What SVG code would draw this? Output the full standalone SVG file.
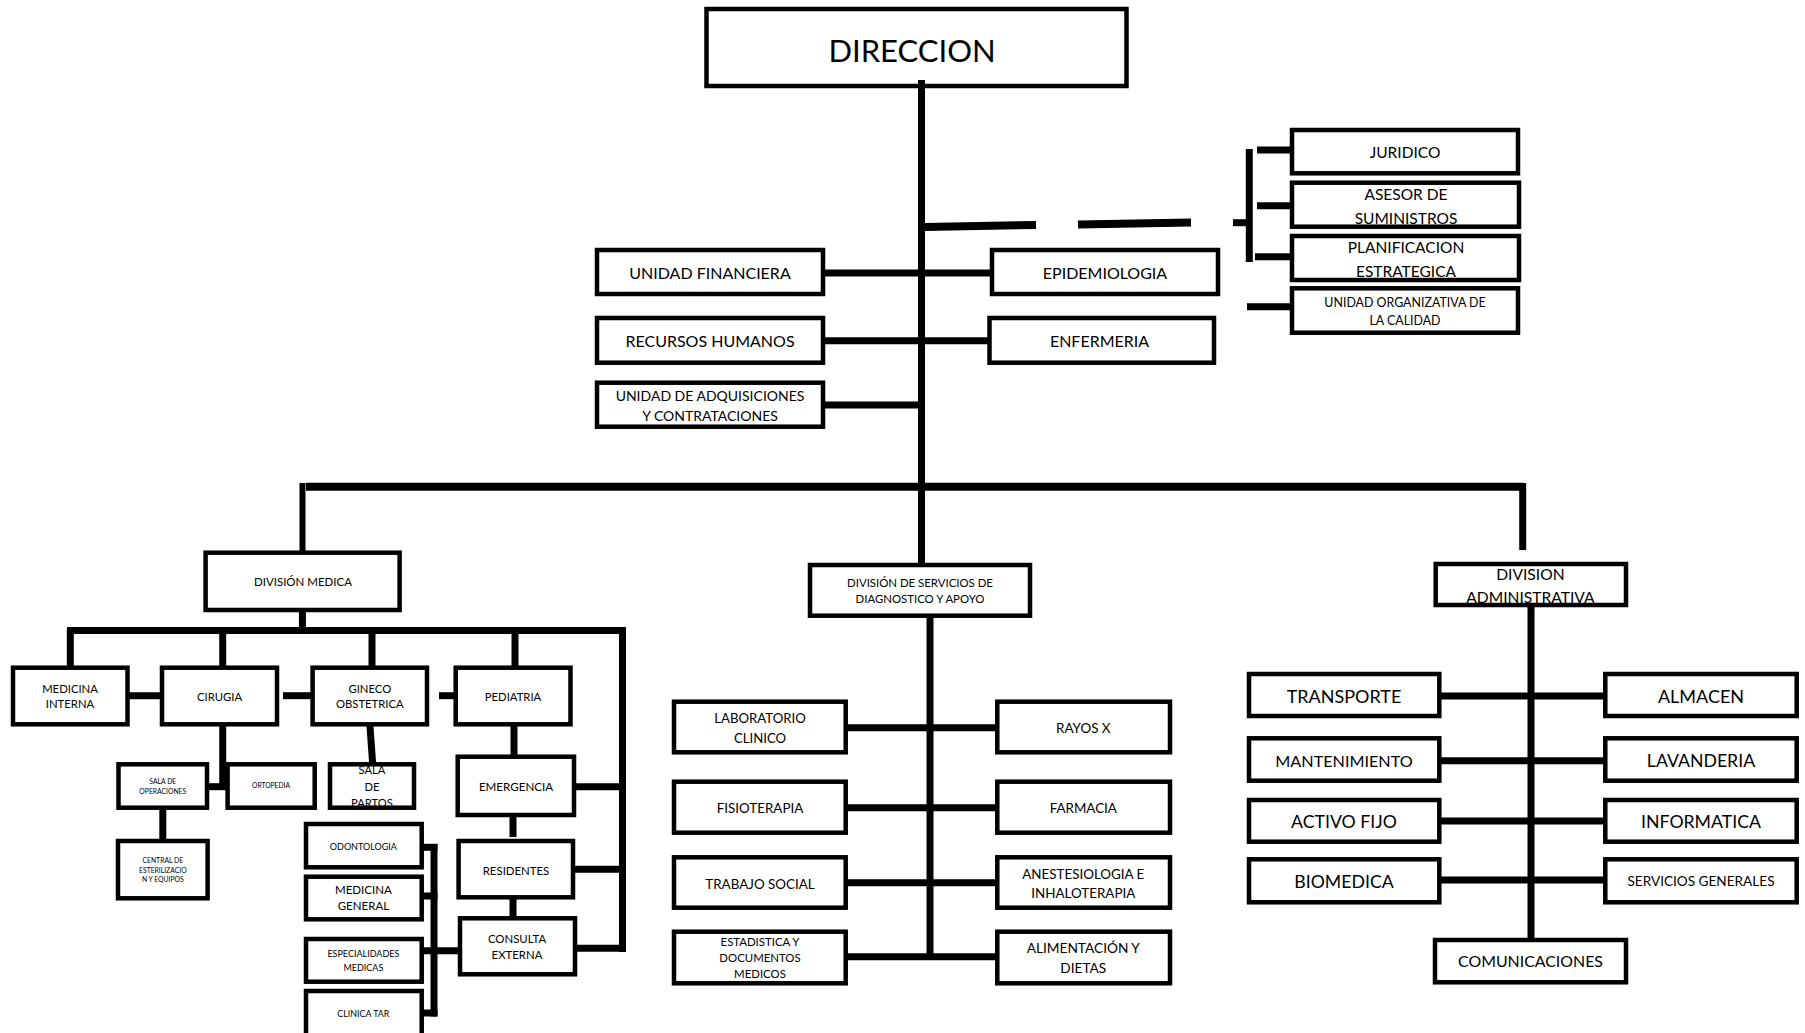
<svg xmlns="http://www.w3.org/2000/svg" width="1805" height="1033" viewBox="0 0 1805 1033">
<style>
  .bx{fill:none;stroke:#000;stroke-width:4.5}
  .c{stroke:#000;stroke-width:7;fill:none;stroke-linecap:butt}
  .t{font-family:Lato,"Noto Sans",sans-serif;fill:#000;text-anchor:middle}
</style>
<rect width="1805" height="1033" fill="#fff"/>
<g id="connectors">
  <line class="c" x1="921.5" y1="80" x2="921.5" y2="565"/>
  <line class="c" x1="925" y1="227" x2="1036" y2="225" style="stroke-width:8"/>
  <line class="c" x1="1078" y1="224.5" x2="1191" y2="222.5" style="stroke-width:8"/>
  <line class="c" x1="823" y1="273" x2="992" y2="273"/>
  <line class="c" x1="823" y1="340.7" x2="989.5" y2="340.7"/>
  <line class="c" x1="823" y1="405" x2="921.5" y2="405"/>
  <line class="c" x1="1249.3" y1="149" x2="1249.3" y2="262"/>
  <line class="c" x1="1257" y1="150" x2="1292" y2="150"/>
  <line class="c" x1="1257" y1="205.7" x2="1292" y2="205.7"/>
  <line class="c" x1="1255" y1="256.7" x2="1292" y2="256.7"/>
  <line class="c" x1="1233" y1="222.7" x2="1249" y2="222.7"/>
  <line class="c" x1="1247" y1="306.7" x2="1292" y2="306.7"/>
  <line class="c" x1="306" y1="486.7" x2="1523" y2="486.7" style="stroke-width:8"/>
  <line class="c" x1="302.5" y1="483" x2="302.5" y2="553" style="stroke-width:6"/>
  <line class="c" x1="1522.7" y1="483" x2="1522.7" y2="550"/>
  <line class="c" x1="302.4" y1="610" x2="302.4" y2="631"/>
  <line class="c" x1="67" y1="630.5" x2="626" y2="630.5"/>
  <line class="c" x1="70.3" y1="630" x2="70.3" y2="668"/>
  <line class="c" x1="222.7" y1="630" x2="222.7" y2="668"/>
  <line class="c" x1="372" y1="630" x2="372" y2="668"/>
  <line class="c" x1="515" y1="630" x2="515" y2="668"/>
  <line class="c" x1="622.5" y1="627" x2="622.5" y2="952"/>
  <line class="c" x1="127.5" y1="695.7" x2="162" y2="695.7"/>
  <line class="c" x1="283" y1="695.7" x2="312.6" y2="695.7"/>
  <line class="c" x1="439" y1="695.7" x2="455.7" y2="695.7"/>
  <line class="c" x1="222.7" y1="724" x2="222.7" y2="790"/>
  <line class="c" x1="207" y1="786.7" x2="227.6" y2="786.7"/>
  <line class="c" x1="369.8" y1="724" x2="372.7" y2="764"/>
  <line class="c" x1="162.8" y1="807.7" x2="162.8" y2="841"/>
  <line class="c" x1="514" y1="724" x2="514" y2="757"/>
  <line class="c" x1="574" y1="786.7" x2="623" y2="786.7"/>
  <line class="c" x1="513" y1="815" x2="513" y2="837"/>
  <line class="c" x1="573" y1="869.3" x2="623" y2="869.3"/>
  <line class="c" x1="513" y1="897" x2="513" y2="918"/>
  <line class="c" x1="575" y1="948.3" x2="626" y2="948.3"/>
  <line class="c" x1="434" y1="844" x2="434" y2="1016.5"/>
  <line class="c" x1="421.7" y1="847.3" x2="437.5" y2="847.3"/>
  <line class="c" x1="421.7" y1="896" x2="437.5" y2="896"/>
  <line class="c" x1="421.7" y1="950.7" x2="460" y2="950.7"/>
  <line class="c" x1="421.7" y1="1013" x2="437.5" y2="1013"/>
  <line class="c" x1="930" y1="615.7" x2="930" y2="957"/>
  <line class="c" x1="845.7" y1="727.7" x2="997.3" y2="727.7"/>
  <line class="c" x1="845.7" y1="807.7" x2="997.3" y2="807.7"/>
  <line class="c" x1="845.7" y1="882.7" x2="997.3" y2="882.7"/>
  <line class="c" x1="845.7" y1="956.7" x2="997.3" y2="956.7"/>
  <line class="c" x1="1531" y1="605" x2="1531" y2="940"/>
  <line class="c" x1="1439.3" y1="696" x2="1605.3" y2="696"/>
  <line class="c" x1="1439.3" y1="760.7" x2="1605.3" y2="760.7"/>
  <line class="c" x1="1439.3" y1="821" x2="1605.3" y2="821"/>
  <line class="c" x1="1439.3" y1="880" x2="1605.3" y2="880"/>
</g>
<g id="direccion"><text class="t" x="912" y="62" font-size="31">DIRECCION</text><rect class="bx" x="706.5" y="9" width="420" height="77"/></g>
<g id="unidad-financiera"><text class="t" x="710" y="279.3" font-size="16">UNIDAD FINANCIERA</text><rect class="bx" x="597" y="250" width="226" height="44"/></g>
<g id="epidemiologia"><text class="t" x="1105" y="279.3" font-size="16">EPIDEMIOLOGIA</text><rect class="bx" x="992" y="250" width="226" height="44"/></g>
<g id="recursos-humanos"><text class="t" x="710" y="346.7" font-size="16">RECURSOS HUMANOS</text><rect class="bx" x="597" y="318" width="226" height="44.7"/></g>
<g id="enfermeria"><text class="t" x="1099.5" y="346.7" font-size="16">ENFERMERIA</text><rect class="bx" x="989.5" y="318" width="224.5" height="44.7"/></g>
<g id="adquisiciones"><text class="t" x="710" font-size="14"><tspan x="710" y="401">UNIDAD DE ADQUISICIONES</tspan><tspan x="710" y="420.7">Y CONTRATACIONES</tspan></text><rect class="bx" x="597" y="382.7" width="226" height="44"/></g>
<g id="juridico"><text class="t" x="1405" y="158.3" font-size="15.5">JURIDICO</text><rect class="bx" x="1292" y="130" width="226" height="43.3"/></g>
<g id="asesor"><text class="t" font-size="15.5"><tspan x="1406" y="200">ASESOR DE</tspan><tspan x="1406" y="223.5">SUMINISTROS</tspan></text><rect class="bx" x="1292" y="182.7" width="227" height="44"/></g>
<g id="planificacion"><text class="t" font-size="15.5"><tspan x="1406" y="253.3">PLANIFICACION</tspan><tspan x="1406" y="277.3">ESTRATEGICA</tspan></text><rect class="bx" x="1292" y="236" width="227" height="44"/></g>
<g id="calidad"><text class="t" font-size="12.4"><tspan x="1405" y="306.7">UNIDAD ORGANIZATIVA DE</tspan><tspan x="1405" y="325">LA CALIDAD</tspan></text><rect class="bx" x="1292" y="288.3" width="226" height="44.4"/></g>
<g id="division-medica"><text class="t" x="303" y="586" font-size="11.5">DIVISIÓN MEDICA</text><rect class="bx" x="205.6" y="552.7" width="194" height="57.3"/></g>
<g id="division-servicios"><text class="t" font-size="11.4"><tspan x="920" y="586.7">DIVISIÓN DE SERVICIOS DE</tspan><tspan x="920" y="602.7">DIAGNOSTICO Y APOYO</tspan></text><rect class="bx" x="810" y="565" width="220" height="50.7"/></g>
<g id="division-administrativa"><text class="t" font-size="15.6"><tspan x="1530.4" y="580">DIVISION</tspan><tspan x="1530.4" y="602.5">ADMINISTRATIVA</tspan></text><rect class="bx" x="1435.7" y="564" width="190.3" height="41"/></g>
<g id="medicina-interna"><text class="t" font-size="11.3"><tspan x="70" y="692.7">MEDICINA</tspan><tspan x="70" y="708.3">INTERNA</tspan></text><rect class="bx" x="13" y="667.7" width="114.5" height="56.6"/></g>
<g id="cirugia"><text class="t" x="219.6" y="700.7" font-size="11.3">CIRUGIA</text><rect class="bx" x="162" y="667.7" width="115" height="56.6"/></g>
<g id="gineco"><text class="t" font-size="11.3"><tspan x="369.8" y="692.7">GINECO</tspan><tspan x="369.8" y="708.3">OBSTETRICA</tspan></text><rect class="bx" x="312.6" y="667.7" width="114.4" height="56.6"/></g>
<g id="pediatria"><text class="t" x="513" y="700.7" font-size="11.3">PEDIATRIA</text><rect class="bx" x="455.7" y="667.7" width="114.8" height="56.6"/></g>
<g id="sala-operaciones"><text class="t" font-size="6.8"><tspan x="162.8" y="784">SALA DE</tspan><tspan x="162.8" y="794">OPERACIONES</tspan></text><rect class="bx" x="118.5" y="764.3" width="88.5" height="43.4"/></g>
<g id="ortopedia"><text class="t" x="271" y="788" font-size="6.7">ORTOPEDIA</text><rect class="bx" x="227.6" y="764.3" width="87.1" height="43.4"/></g>
<g id="sala-partos"><text class="t" font-size="11.2"><tspan x="372" y="774">SALA</tspan><tspan x="372" y="790.7">DE</tspan><tspan x="372" y="806.7">PARTOS</tspan></text><rect x="330" y="764.3" width="84" height="43.4" class="bx"/></g>
<g id="central-esterilizacion"><text class="t" font-size="6.8"><tspan x="162.8" y="862.7">CENTRAL DE</tspan><tspan x="162.8" y="872.7">ESTERILIZACIO</tspan><tspan x="162.8" y="881.7">N Y EQUIPOS</tspan></text><rect class="bx" x="118" y="841" width="89.6" height="57.3"/></g>
<g id="emergencia"><text class="t" x="516" y="790.7" font-size="11.6">EMERGENCIA</text><rect class="bx" x="457.7" y="756.7" width="116.3" height="58.3"/></g>
<g id="residentes"><text class="t" x="516" y="875" font-size="11.4">RESIDENTES</text><rect class="bx" x="458.6" y="841" width="114.4" height="56.3"/></g>
<g id="consulta-externa"><text class="t" font-size="11.4"><tspan x="517" y="943.3">CONSULTA</tspan><tspan x="517" y="959">EXTERNA</tspan></text><rect class="bx" x="460" y="918.3" width="115" height="56"/></g>
<g id="odontologia"><text class="t" x="363.4" y="850" font-size="9">ODONTOLOGIA</text><rect class="bx" x="306" y="824" width="115.7" height="43.3"/></g>
<g id="medicina-general"><text class="t" font-size="11.5"><tspan x="363.4" y="894.3">MEDICINA</tspan><tspan x="363.4" y="910">GENERAL</tspan></text><rect class="bx" x="306" y="876.7" width="115.7" height="42.6"/></g>
<g id="especialidades"><text class="t" font-size="9"><tspan x="363.4" y="957.3">ESPECIALIDADES</tspan><tspan x="363.4" y="970.7">MEDICAS</tspan></text><rect class="bx" x="306" y="939" width="115.7" height="42.7"/></g>
<g id="clinica-tar"><text class="t" x="363.4" y="1016.7" font-size="8.9">CLINICA TAR</text><rect class="bx" x="306" y="991" width="115.7" height="46"/></g>
<g id="laboratorio"><text class="t" font-size="13.2"><tspan x="760" y="723.3">LABORATORIO</tspan><tspan x="760" y="742.7">CLINICO</tspan></text><rect class="bx" x="674" y="701.7" width="171.7" height="50.6"/></g>
<g id="rayos-x"><text class="t" x="1083.3" y="733.3" font-size="13.4">RAYOS X</text><rect class="bx" x="997.3" y="701.7" width="172.7" height="50.6"/></g>
<g id="fisioterapia"><text class="t" x="760" y="813.3" font-size="13.4">FISIOTERAPIA</text><rect class="bx" x="674" y="781.7" width="171.7" height="51"/></g>
<g id="farmacia"><text class="t" x="1083.3" y="813.3" font-size="13.4">FARMACIA</text><rect class="bx" x="997.3" y="781.7" width="172.7" height="51"/></g>
<g id="trabajo-social"><text class="t" x="760" y="889.3" font-size="13.4">TRABAJO SOCIAL</text><rect class="bx" x="674" y="857.3" width="171.7" height="50.4"/></g>
<g id="anestesiologia"><text class="t" font-size="13.4"><tspan x="1083.3" y="879">ANESTESIOLOGIA E</tspan><tspan x="1083.3" y="897.7">INHALOTERAPIA</tspan></text><rect class="bx" x="997.3" y="857.3" width="172.7" height="50.4"/></g>
<g id="estadistica"><text class="t" font-size="11.4"><tspan x="760" y="946">ESTADISTICA Y</tspan><tspan x="760" y="961.7">DOCUMENTOS</tspan><tspan x="760" y="977.7">MEDICOS</tspan></text><rect class="bx" x="674" y="931.7" width="171.7" height="51.6"/></g>
<g id="alimentacion"><text class="t" font-size="13.7"><tspan x="1083.3" y="952.7">ALIMENTACIÓN Y</tspan><tspan x="1083.3" y="972.7">DIETAS</tspan></text><rect class="bx" x="997.3" y="931.7" width="172.7" height="51.6"/></g>
<g id="transporte"><text class="t" x="1344" y="702.7" font-size="18">TRANSPORTE</text><rect class="bx" x="1249" y="674" width="190.3" height="42"/></g>
<g id="almacen"><text class="t" x="1701" y="702.7" font-size="18">ALMACEN</text><rect class="bx" x="1605.3" y="674" width="191.4" height="42"/></g>
<g id="mantenimiento"><text class="t" x="1344" y="766.7" font-size="16.2">MANTENIMIENTO</text><rect class="bx" x="1249" y="738.3" width="190.3" height="42.4"/></g>
<g id="lavanderia"><text class="t" x="1701" y="766.7" font-size="17.7">LAVANDERIA</text><rect class="bx" x="1605.3" y="738.3" width="191.4" height="42.4"/></g>
<g id="activo-fijo"><text class="t" x="1344" y="828.3" font-size="17.7">ACTIVO FIJO</text><rect class="bx" x="1249" y="800" width="190.3" height="41.7"/></g>
<g id="informatica"><text class="t" x="1701" y="828.3" font-size="17.7">INFORMATICA</text><rect class="bx" x="1605.3" y="800" width="191.4" height="41.7"/></g>
<g id="biomedica"><text class="t" x="1344" y="887.7" font-size="17.7">BIOMEDICA</text><rect class="bx" x="1249" y="859.3" width="190.3" height="43"/></g>
<g id="servicios-generales"><text class="t" x="1701" y="886" font-size="13.6">SERVICIOS GENERALES</text><rect class="bx" x="1605.3" y="859.3" width="191.4" height="43"/></g>
<g id="comunicaciones"><text class="t" x="1530.5" y="966.7" font-size="15.9">COMUNICACIONES</text><rect class="bx" x="1435" y="940" width="191" height="42.3"/></g>
</svg>
